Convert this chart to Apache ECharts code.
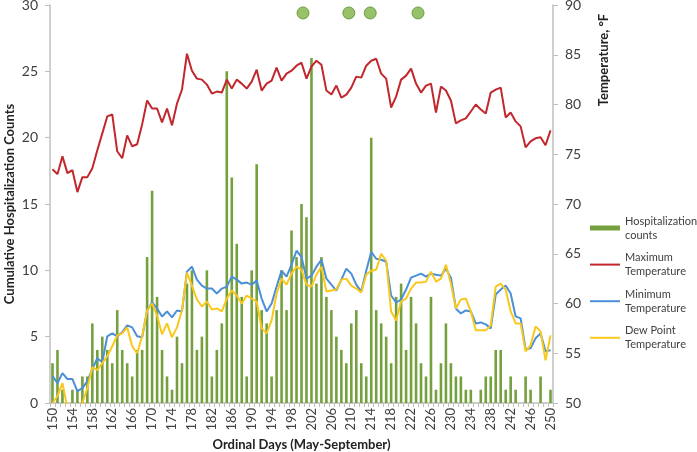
<!DOCTYPE html>
<html>
<head>
<meta charset="utf-8">
<script src="https://cdn.jsdelivr.net/npm/echarts@6/dist/echarts.min.js"></script>
<style>
html,body{margin:0;padding:0;background:#fff;}
#chart{width:697px;height:452px;}
</style>
</head>
<body>
<div id="chart"></div>
<script>
// Ordinal days 150..250 (categories)
var days = [];
for (var d = 150; d <= 250; d++) days.push(String(d));

// Cumulative hospitalization counts per day
var counts = [
  3,4,1,0,1,1,2,2,6,4,
  5,4,3,7,4,3,2,4,4,11,
  16,8,4,2,1,5,3,9,10,4,
  5,10,2,4,6,25,17,12,8,2,
  10,18,7,6,2,7,10,7,13,11,
  15,14,26,9,11,8,7,5,4,3,
  6,7,3,2,20,7,6,5,3,8,
  9,4,8,6,3,2,8,1,3,6,
  3,2,2,1,1,0,1,2,2,4,
  4,1,2,1,0,2,1,0,2,0,
  1
];

// Maximum temperature (°F)
var maxTemp = [
  73.5,73.0,74.8,73.1,73.4,71.2,72.7,72.7,73.6,75.4,
  77.1,78.8,79.0,75.3,74.6,76.9,75.8,76.0,78.0,80.4,
  79.6,79.6,78.2,79.6,77.9,80.1,81.5,85.1,83.4,82.6,
  82.5,82.0,81.1,81.3,81.2,82.5,81.6,82.5,82.1,81.6,
  82.3,83.5,81.4,82.1,82.4,83.7,82.4,83.1,83.4,83.9,
  84.2,82.6,83.8,84.4,84.0,81.4,81.0,81.9,80.7,81.0,
  81.7,82.8,82.7,83.9,84.4,84.6,83.1,82.6,79.7,80.8,
  82.5,82.9,83.6,82.1,81.2,81.9,82.1,79.2,81.8,81.4,
  80.4,78.1,78.4,78.6,79.3,80.0,79.5,79.1,81.2,81.5,
  81.7,78.7,79.2,78.3,77.8,75.7,76.3,76.6,76.7,75.9,
  77.4
];

// Minimum temperature (°F)
var minTemp = [
  52.7,52.0,53.0,52.4,52.4,51.2,51.5,52.2,53.4,54.5,
  54.1,56.7,57.0,56.7,57.1,57.8,57.6,56.7,56.6,59.3,
  60.1,59.5,58.7,59.2,58.6,59.3,59.2,63.2,63.7,62.4,
  61.8,61.5,61.5,61.0,61.5,61.7,62.7,62.4,62.0,62.1,
  61.9,62.3,60.5,59.2,60.0,61.7,63.3,62.7,63.9,65.3,
  64.7,62.5,62.8,63.7,64.4,62.5,61.9,61.3,62.4,63.5,
  63.0,61.9,61.2,63.3,65.2,64.5,64.4,64.2,60.8,60.1,
  60.4,61.4,62.6,62.8,63.0,62.7,63.0,62.9,62.8,63.5,
  62.6,59.5,59.0,59.3,59.2,58.0,58.1,57.9,57.5,60.9,
  61.4,61.8,61.0,58.7,58.5,55.4,55.5,56.5,57.0,55.2,
  55.3
];

// Dew point temperature (°F)
var dewPoint = [
  50.0,50.7,52.0,49.5,48.5,49.0,50.0,51.5,53.6,53.3,
  54.0,54.7,55.7,56.8,57.0,57.6,55.7,55.0,56.7,59.3,
  60.0,58.8,56.9,58.0,56.6,57.6,59.3,63.1,61.8,60.4,
  59.7,60.2,59.4,59.5,59.2,60.5,61.3,60.8,60.0,60.8,
  60.5,60.2,57.5,57.0,58.3,61.0,62.5,61.9,63.0,63.7,
  63.4,61.9,61.7,62.9,63.7,61.2,61.3,61.4,62.4,62.5,
  61.8,61.5,61.1,62.9,63.3,63.4,65.0,64.3,59.2,58.3,
  60.2,60.5,61.5,62.1,62.1,62.2,63.2,62.2,62.5,63.9,
  62.0,59.5,60.4,60.5,59.2,57.3,57.3,57.3,57.8,61.7,
  62.0,61.4,59.2,58.0,58.0,55.2,55.8,57.7,57.2,54.3,
  56.8
];

// Marker dots at the top (day, level on count axis)
var markerDays = [200.3, 209.5, 213.8, 223.4];
var markerLevel = [29.4, 29.4, 29.4, 29.4];

var legendNames = {
  'Hospitalization counts': 'Hospitalization\ncounts',
  'Maximum Temperature': 'Maximum\nTemperature',
  'Minimum Temperature': 'Minimum\nTemperature',
  'Dew Point Temperature': 'Dew Point\nTemperature'
};

var FONT = 'Lato, "Liberation Sans", sans-serif';
var axisGrey = '#bfbfbf';
var textCol = '#404040';
var lineIcon = 'path://M0,0 L30,0 L30,2 L0,2 Z';

var chart = echarts.init(document.getElementById('chart'), null, {renderer: 'canvas'});
chart.setOption({
  animation: false,
  backgroundColor: '#ffffff',
  textStyle: {fontFamily: FONT},
  grid: {left: 50, right: 144, top: 5, bottom: 49, containLabel: false, outerBoundsMode: 'none'},
  legend: {
    orient: 'vertical',
    left: 590,
    top: 207,
    padding: 0,
    itemWidth: 30,
    itemHeight: 5,
    itemGap: -5.4,
    data: [
      {name: 'Hospitalization counts', icon: 'rect'},
      {name: 'Maximum Temperature', icon: lineIcon},
      {name: 'Minimum Temperature', icon: lineIcon},
      {name: 'Dew Point Temperature', icon: lineIcon}
    ],
    formatter: function (n) { return legendNames[n] || n; },
    textStyle: {fontFamily: FONT, fontSize: 11, lineHeight: 14, color: textCol, padding: [14, 0, 0, 0]}
  },
  xAxis: [{
    type: 'category',
    data: days,
    boundaryGap: true,
    name: 'Ordinal Days (May-September)',
    nameLocation: 'middle',
    nameGap: 33,
    nameTextStyle: {fontFamily: FONT, fontSize: 13, fontWeight: 'bold', color: '#222'},
    axisLine: {lineStyle: {color: axisGrey, width: 1.5}},
    axisTick: {show: true, interval: 0, length: 4, lineStyle: {color: axisGrey}},
    axisLabel: {interval: 3, rotate: 90, fontSize: 13, color: textCol, margin: 5, fontFamily: FONT,
                hideOverlap: false, showMinLabel: true, showMaxLabel: true},
    splitLine: {show: false}
  }, {
    type: 'value',
    min: 149.5,
    max: 250.5,
    show: false
  }],
  yAxis: [{
    type: 'value',
    min: 0, max: 30, interval: 5,
    name: 'Cumulative Hospitalization Counts',
    nameLocation: 'middle',
    nameGap: 34,
    nameMoveOverlap: false,
    nameTextStyle: {fontFamily: FONT, fontSize: 13, fontWeight: 'bold', color: '#222'},
    axisLine: {show: true, lineStyle: {color: axisGrey, width: 1.5}},
    axisTick: {show: true, length: 5, lineStyle: {color: axisGrey}},
    axisLabel: {fontSize: 14, color: textCol, margin: 12, fontFamily: FONT},
    splitLine: {show: false}
  }, {
    type: 'value',
    min: 50, max: 90, interval: 5,
    name: 'Temperature, °F',
    nameLocation: 'middle',
    nameRotate: 90,
    nameGap: 44,
    nameTextStyle: {fontFamily: FONT, fontSize: 13, fontWeight: 'bold', color: '#222', padding: [0, 0, 0, 288]},
    axisLine: {show: true, lineStyle: {color: axisGrey, width: 1.5}},
    axisTick: {show: true, length: 5, lineStyle: {color: axisGrey}},
    axisLabel: {fontSize: 14, color: textCol, margin: 12, fontFamily: FONT},
    splitLine: {show: false}
  }],
  series: [{
    name: 'Hospitalization counts',
    type: 'bar',
    xAxisIndex: 0, yAxisIndex: 0,
    data: counts,
    barWidth: 2.6,
    itemStyle: {color: '#74a03e'}
  }, {
    name: 'Maximum Temperature',
    type: 'line',
    xAxisIndex: 0, yAxisIndex: 1,
    data: maxTemp,
    symbol: 'none',
    lineStyle: {color: '#c1272d', width: 2},
    itemStyle: {color: '#c1272d'}
  }, {
    name: 'Minimum Temperature',
    type: 'line',
    xAxisIndex: 0, yAxisIndex: 1,
    data: minTemp,
    symbol: 'none',
    lineStyle: {color: '#4a8fd8', width: 2},
    itemStyle: {color: '#4a8fd8'}
  }, {
    name: 'Dew Point Temperature',
    type: 'line',
    xAxisIndex: 0, yAxisIndex: 1,
    data: dewPoint,
    symbol: 'none',
    lineStyle: {color: '#f8c81c', width: 2},
    itemStyle: {color: '#f8c81c'}
  }, {
    name: 'Markers',
    type: 'scatter',
    xAxisIndex: 1, yAxisIndex: 0,
    data: markerDays.map(function (d, i) { return [d, markerLevel[i]]; }),
    symbolSize: 12,
    itemStyle: {color: '#7db343', borderColor: '#5d8c2c', borderWidth: 1}
  }]
});
</script>
</body>
</html>
